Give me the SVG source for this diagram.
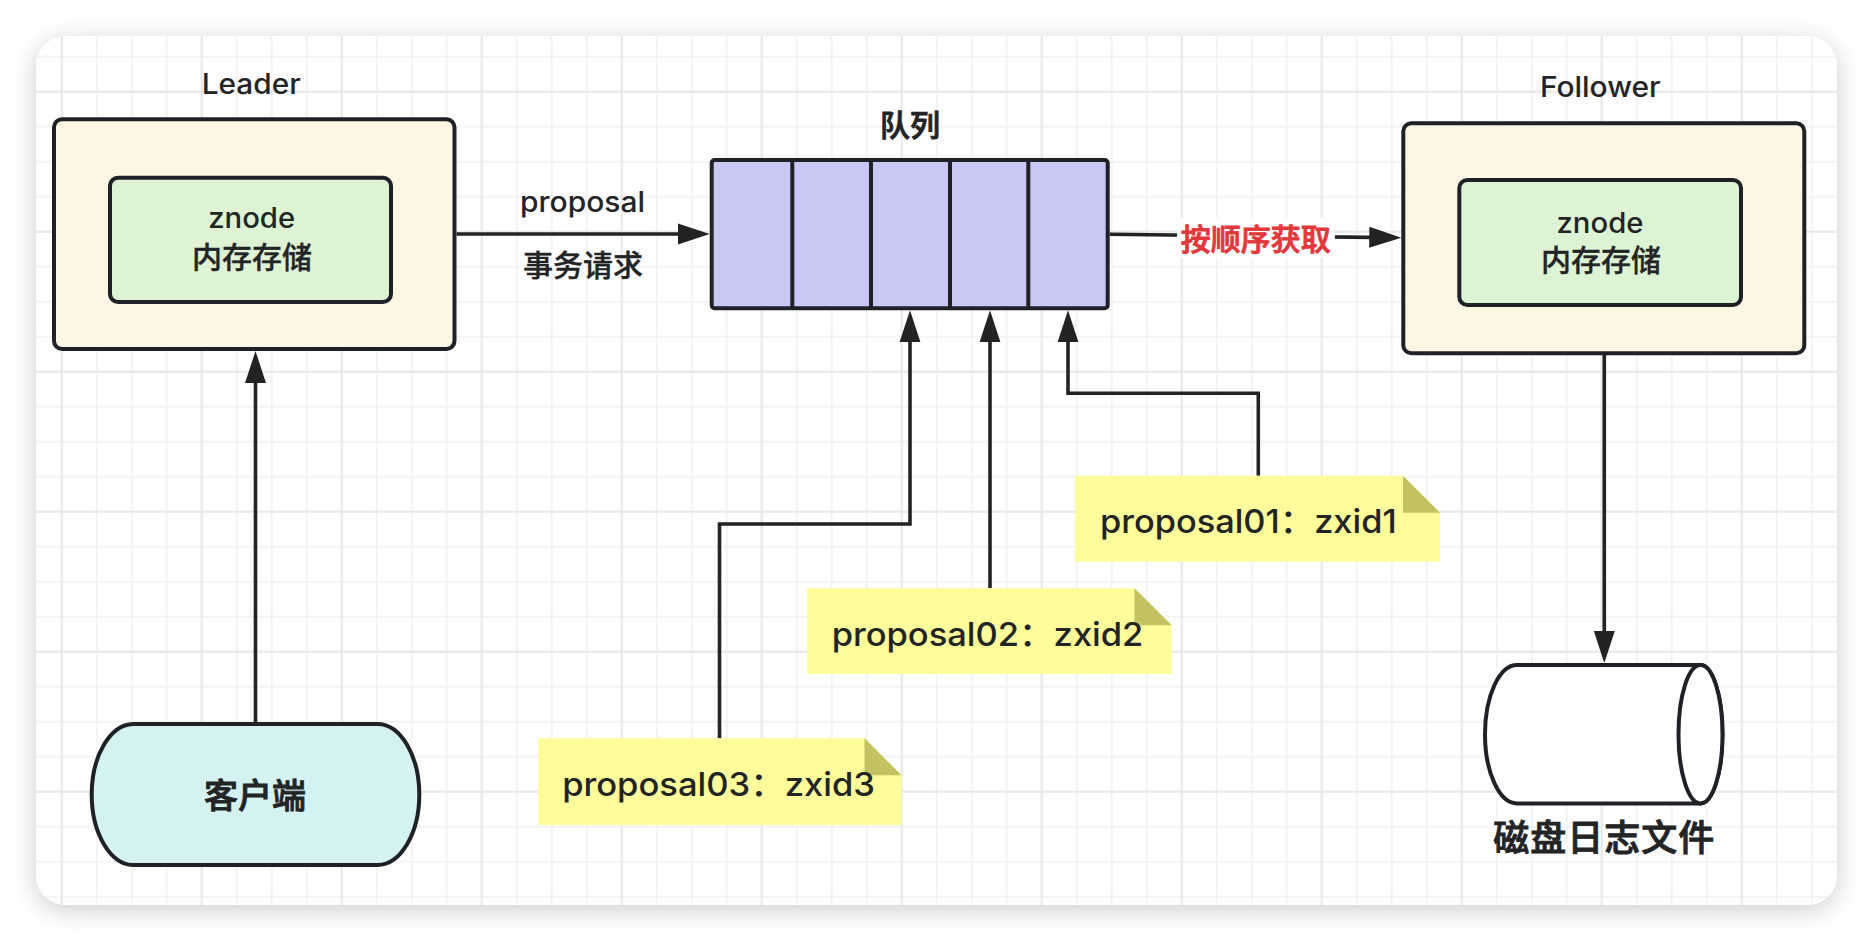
<svg xmlns="http://www.w3.org/2000/svg" width="1874" height="942" viewBox="0 0 1874 942">
  <style>
    .t { font-family: Inter, "Noto Sans CJK SC", sans-serif; fill: #222426; font-weight: 500; }
    .c { text-anchor: middle; }
    .m { stroke: #222426; stroke-width: 0.9; }
    .s { stroke: #222426; stroke-width: 0.35; }
    .red { fill: #e2383c; stroke: #e2383c; stroke-width: 0.9; }
    .box { stroke: #1e2226; stroke-width: 4; }
    .ln { fill: none; stroke: #232323; stroke-width: 3.6; }
    .note { fill: #fefc9b; }
    .fold { fill: #c2c262; }
  </style>
  <defs>
    <filter id="shadow" x="-10%" y="-10%" width="120%" height="125%">
      <feDropShadow dx="0" dy="5" stdDeviation="13" flood-color="#000" flood-opacity="0.2"/>
    </filter>
    <pattern id="gridMinor" patternUnits="userSpaceOnUse" x="25.7" y="20.7" width="35" height="35">
      <path d="M1,0 V35 M0,1 H35" stroke="#efefef" stroke-width="1.5" fill="none"/>
    </pattern>
    <pattern id="gridMajor" patternUnits="userSpaceOnUse" x="60.7" y="90.7" width="140" height="140">
      <path d="M1,0 V140 M0,1 H140" stroke="#e5e5e5" stroke-width="1.5" fill="none"/>
    </pattern>
    <clipPath id="cardClip">
      <rect x="36" y="36" width="1801" height="869" rx="30" ry="30"/>
    </clipPath>
    <marker id="arrow" markerUnits="userSpaceOnUse" markerWidth="34" markerHeight="24" refX="22" refY="12" orient="auto">
      <path d="M0,1.5 L32,12 L0,22.5 Z" fill="#232323"/>
    </marker>
  </defs>

  <rect x="0" y="0" width="1874" height="942" fill="#ffffff"/>
  <g id="card">
    <rect x="36" y="36" width="1801" height="869" rx="30" ry="30" fill="#ffffff" filter="url(#shadow)"/>
    <g clip-path="url(#cardClip)">
      <rect x="36" y="36" width="1801" height="869" fill="url(#gridMinor)"/>
      <rect x="36" y="36" width="1801" height="869" fill="url(#gridMajor)"/>
    </g>
  </g>

  <g id="connectors">
    <path class="ln" d="M456.5,234 H699.7" marker-end="url(#arrow)"/>
    <path class="ln" d="M1109.7,234.3 L1391.3,237.6" marker-end="url(#arrow)"/>
    <path class="ln" d="M255.5,724 V361" marker-end="url(#arrow)"/>
    <path class="ln" d="M719.5,738.3 V524 H910 V320.3" marker-end="url(#arrow)"/>
    <path class="ln" d="M990,588.3 V320.3" marker-end="url(#arrow)"/>
    <path class="ln" d="M1258.3,475.7 V393.3 H1068 V320.3" marker-end="url(#arrow)"/>
    <path class="ln" d="M1604.3,355 V653" marker-end="url(#arrow)"/>
    <rect x="1177" y="218" width="158" height="40" fill="#ffffff"/>
    <text class="t c red" x="1255.8" y="249.5" font-size="30">按顺序获取</text>
    <text class="t c" x="582.5" y="212.3" font-size="28" textLength="125" lengthAdjust="spacingAndGlyphs">proposal</text>
    <text class="t c s" x="583" y="276" font-size="30">事务请求</text>
  </g>

  <g id="leader">
    <text class="t c" x="251.2" y="94.3" font-size="28" textLength="99" lengthAdjust="spacingAndGlyphs">Leader</text>
    <rect class="box" x="54" y="119.3" width="400.5" height="229.7" rx="8" fill="#fdf6e4"/>
    <rect class="box" x="110" y="177.7" width="281" height="124.3" rx="8" fill="#ddf3d3"/>
    <text class="t c" x="251.7" y="228.3" font-size="28" textLength="87" lengthAdjust="spacingAndGlyphs">znode</text>
    <text class="t c s" x="252" y="268" font-size="30">内存存储</text>
  </g>

  <g id="queue">
    <text class="t c m" x="910" y="136" font-size="30">队列</text>
    <rect class="box" x="711.7" y="160" width="396" height="148.3" rx="3" fill="#c7c8f3"/>
    <path class="box" d="M792.3,160 V308.3 M871,160 V308.3 M950,160 V308.3 M1028.3,160 V308.3" fill="none"/>
  </g>

  <g id="follower">
    <text class="t c" x="1600.3" y="97.3" font-size="28" textLength="120.7" lengthAdjust="spacingAndGlyphs">Follower</text>
    <rect class="box" x="1403.3" y="123.3" width="401" height="230" rx="8" fill="#fdf6e4"/>
    <rect class="box" x="1459.3" y="180" width="281.7" height="125" rx="8" fill="#ddf3d3"/>
    <text class="t c" x="1600" y="232.7" font-size="28" textLength="87" lengthAdjust="spacingAndGlyphs">znode</text>
    <text class="t c s" x="1601" y="271" font-size="30">内存存储</text>
  </g>

  <g id="client">
    <path class="box" d="M133,724 H377.5 A42,70.5 0 0 1 419.3,794.5 A42,70.5 0 0 1 377.5,865 H133 A42,70.5 0 0 1 91.7,794.5 A42,70.5 0 0 1 133,724 Z" fill="#d4f2f2"/>
    <text class="t c m" x="255" y="808" font-size="34">客户端</text>
  </g>

  <g id="note1">
    <path class="note" d="M1075,475.7 H1403 L1440,512.7 V561.7 H1075 Z"/>
    <path class="fold" d="M1403,475.7 V512.7 H1440 Z"/>
    <text class="t" x="1100" y="533.3" font-size="33" textLength="296.7" lengthAdjust="spacingAndGlyphs">proposal01：zxid1</text>
  </g>

  <g id="note2">
    <path class="note" d="M807.3,588.3 H1134.5 L1171.7,625.3 V674 H807.3 Z"/>
    <path class="fold" d="M1134.5,588.3 V625.3 H1171.7 Z"/>
    <text class="t" x="831.7" y="646" font-size="33" textLength="311.7" lengthAdjust="spacingAndGlyphs">proposal02：zxid2</text>
  </g>

  <g id="note3">
    <path class="note" d="M538.3,738.3 H864.5 L901.5,775.3 V825 H538.3 Z"/>
    <path class="fold" d="M864.5,738.3 V775.3 H901.5 Z"/>
    <text class="t" x="562.2" y="796.3" font-size="33" textLength="312.8" lengthAdjust="spacingAndGlyphs">proposal03：zxid3</text>
  </g>

  <g id="disk">
    <path class="box" d="M1517,665 H1700.5 A22,69.2 0 0 1 1700.5,803.4 H1517 A32,69.2 0 0 1 1517,665 Z" fill="#ffffff"/>
    <ellipse class="box" cx="1700.5" cy="734.2" rx="22" ry="69.2" fill="#ffffff"/>
    <text class="t c m" x="1604.3" y="850.5" font-size="36" letter-spacing="1">磁盘日志文件</text>
  </g>
</svg>
